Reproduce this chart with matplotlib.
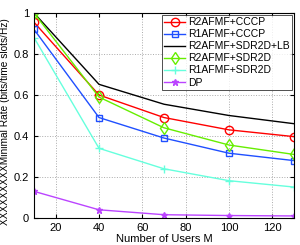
import matplotlib
matplotlib.use("Agg")
import matplotlib.pyplot as plt

plt.rcParams['font.family'] = ['Liberation Sans', 'DejaVu Sans']

users = [10, 40, 70, 100, 130]
r2_cccp = [0.955, 0.60, 0.49, 0.43, 0.397]
r1_cccp = [0.92, 0.49, 0.39, 0.316, 0.28]
r2_sdr_lb = [1.0, 0.652, 0.555, 0.50, 0.46]
r2_sdr = [1.0, 0.59, 0.44, 0.356, 0.31]
r1_sdr = [0.88, 0.34, 0.24, 0.182, 0.151]
dp = [0.13, 0.04, 0.016, 0.012, 0.01]

fig = plt.figure(figsize=(3.0, 2.45), dpi=100)
ax = fig.add_axes([34 / 300, 27 / 245, 260 / 300, 205 / 245])

ax.plot(users, r2_cccp, color='#ff0000', marker='o', mfc='none', ms=6, lw=1, label='R2AFMF+CCCP')
ax.plot(users, r1_cccp, color='#1f4fff', marker='s', mfc='none', ms=5, lw=1, label='R1AFMF+CCCP')
ax.plot(users, r2_sdr_lb, color='black', lw=1, label='R2AFMF+SDR2D+LB')
ax.plot(users, r2_sdr, color='#66ee00', marker='d', mfc='none', ms=6, lw=1, label='R2AFMF+SDR2D')
ax.plot(users, r1_sdr, color='#66ffdd', marker='+', ms=6, lw=1, label='R1AFMF+SDR2D')
ax.plot(users, dp, color='#bb44ff', marker='*', ms=5, lw=1, label='DP')

ax.set_xlim(10, 130)
ax.set_ylim(0, 1)
ax.set_xticks([20, 40, 60, 80, 100, 120])
ax.set_yticks([0, 0.2, 0.4, 0.6, 0.8, 1])
ax.set_yticklabels(['0', '0.2', '0.4', '0.6', '0.8', '1'])
ax.tick_params(labelsize=8, direction='in', length=3, top=True, right=True)
ax.grid(True, linestyle=':', color='#aaaaaa', lw=0.7)
ax.set_xlabel('Number of Users M', fontsize=8, labelpad=1)
ax.set_ylabel('XXXXXXXXXMinimal Rate (bits/time slots/Hz)', fontsize=7.3, labelpad=2)
ax.yaxis.set_label_coords(-0.094, 0.47)

leg = ax.legend(loc='upper right', fontsize=7.5, frameon=True, fancybox=False,
                edgecolor='black', handlelength=2, handletextpad=0.3,
                borderpad=0.25, labelspacing=0.2, borderaxespad=0.15)
leg.get_frame().set_linewidth(0.6)

fig.savefig('out.png', dpi=100)
